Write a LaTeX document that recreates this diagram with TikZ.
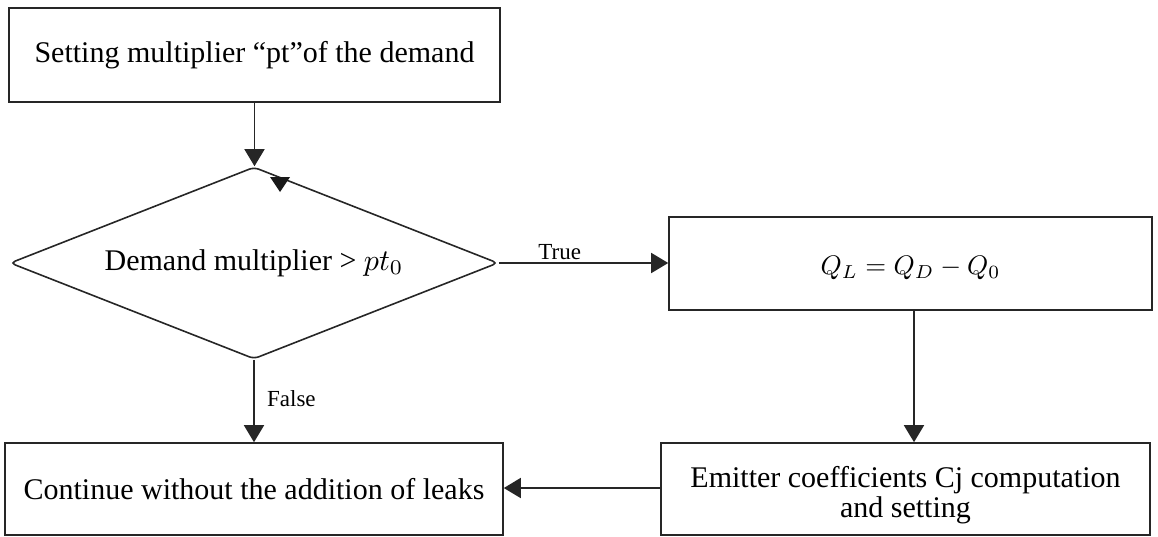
\documentclass[tikz,border=0pt]{standalone}
\usepackage{fontspec}
\setmainfont{Liberation Serif}
\usetikzlibrary{shapes.geometric,arrows.meta}
\begin{document}
\begin{tikzpicture}[x=1pt,y=-1pt,
  line width=1.6pt,
  box/.style={draw=black!85,rectangle,inner sep=0pt,align=center,font=\fontsize{30}{30}\selectfont},
  dec/.style={draw=black!85,diamond,inner sep=0pt,minimum width=488pt,minimum height=192pt,shape aspect=2.54,rounded corners=5pt,font=\fontsize{30}{30}\selectfont},
  arr/.style={draw=black!85,-{Triangle[length=17pt,width=20pt]}},
  lbl/.style={font=\fontsize{23}{26}\selectfont}]
\useasboundingbox (0,0) rectangle (1158,536);
\node[box,minimum width=491pt,minimum height=94pt] (top) at (254.5,55) {Setting multiplier “pt”of the demand};
\node[dec] (dia) at (254,263) {Demand multiplier > \scalebox{3}{\normalsize$pt_0$}};
\node[box,minimum width=483pt,minimum height=93pt] (q) at (910.5,263.5) {\raisebox{-4pt}[\height][\depth]{\scalebox{2.68}{\normalsize$Q_L = Q_D - Q_0$}}};
\node[box,minimum width=489pt,minimum height=92pt] (emit) at (905.5,489) {\rule{0pt}{33pt}Emitter coefficients Cj computation\\and setting};
\node[box,minimum width=498pt,minimum height=92pt] (cont) at (254,489) {Continue without the addition of leaks};
\draw[arr] (top.south) -- (top.south |- dia.north);
\draw[arr] (dia.east) -- node[lbl,above,pos=0.36,yshift=-1pt] {True} (dia.east -| q.west);
\draw[arr] (dia.south) -- node[lbl,right,pos=0.47,xshift=9pt] {False} (dia.south |- cont.north);
\draw[arr] ([xshift=3.5pt]q.south) -- ([xshift=3.5pt]q.south |- emit.north);
\draw[arr] ([yshift=1pt]emit.west) -- ([yshift=1pt]emit.west -| cont.east);
\fill[black!90] (270,177) -- (290,177) -- (280,192) -- cycle;
\end{tikzpicture}
\end{document}
